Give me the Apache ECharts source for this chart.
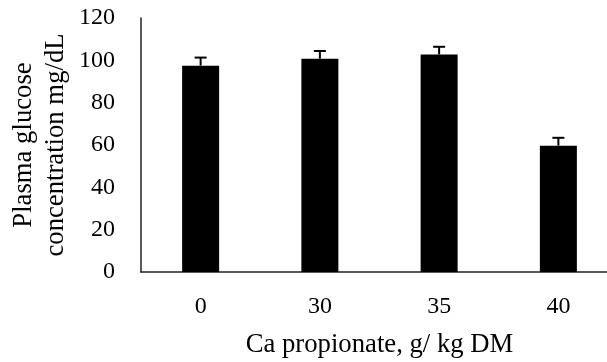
<!DOCTYPE html>
<html>
<head>
<meta charset="utf-8">
<script src="https://cdn.jsdelivr.net/npm/echarts@6/dist/echarts.min.js"></script>
<style>
  html, body { margin: 0; padding: 0; background: #fff; }
  #chart { width: 607px; height: 362px; }
</style>
</head>
<body>
<div id="chart"></div>
<script>
const categories = ['0', '30', '35', '40'];
const glucose = [97.5, 100.8, 102.8, 59.7];
const glucoseErr = [3.8, 3.6, 3.6, 3.7];
const yTicks = { min: 0, max: 120, interval: 20 };

const FONT = '"Liberation Serif", "Times New Roman", serif';

const chart = echarts.init(document.getElementById('chart'));

const errData = glucose.map((v, i) => [i, v, glucoseErr[i]]);

chart.setOption({
  animation: false,
  backgroundColor: '#fff',
  // plot area runs past the right edge, as in the cropped original
  grid: { left: 141, top: 18, right: -11, bottom: 90, outerBoundsMode: 'none', containLabel: false },
  xAxis: {
    type: 'category',
    data: categories,
    axisLine: { lineStyle: { color: '#222', width: 1.5 } },
    axisTick: { show: false },
    axisLabel: { color: '#000', fontFamily: FONT, fontSize: 24, margin: 23 },
    name: 'Ca propionate, g/ kg DM',
    nameLocation: 'middle',
    nameGap: 59,
    nameTextStyle: { color: '#000', fontFamily: FONT, fontSize: 26.7 },
  },
  yAxis: {
    type: 'value',
    min: yTicks.min,
    max: yTicks.max,
    interval: yTicks.interval,
    splitLine: { show: false },
    axisLine: { show: true, lineStyle: { color: '#222', width: 1.5 } },
    axisTick: { show: false },
    axisLabel: { color: '#000', fontFamily: FONT, fontSize: 24, margin: 26 },
  },
  graphic: [{
    type: 'text',
    x: 8,
    y: 145,
    rotation: Math.PI / 2,
    style: {
      text: 'Plasma glucose\nconcentration mg/dL',
      fill: '#000',
      font: '26.7px ' + FONT,
      lineHeight: 32,
      textAlign: 'center',
      textVerticalAlign: 'top',
    },
  }],
  series: [
    {
      type: 'bar',
      data: glucose,
      barWidth: 37,
      itemStyle: { color: '#000' },
    },
    {
      type: 'custom',
      data: errData,
      z: 3,
      renderItem: (params, api) => {
        const x = api.value(0);
        const top = api.coord([x, api.value(1) + api.value(2)]);
        const base = api.coord([x, api.value(1)]);
        const half = 6;
        const st = { stroke: '#000', lineWidth: 2 };
        return {
          type: 'group',
          children: [
            { type: 'line', shape: { x1: base[0], y1: base[1], x2: top[0], y2: top[1] }, style: st },
            { type: 'line', shape: { x1: top[0] - half, y1: top[1], x2: top[0] + half, y2: top[1] }, style: st },
          ],
        };
      },
    },
  ],
});
</script>
</body>
</html>
